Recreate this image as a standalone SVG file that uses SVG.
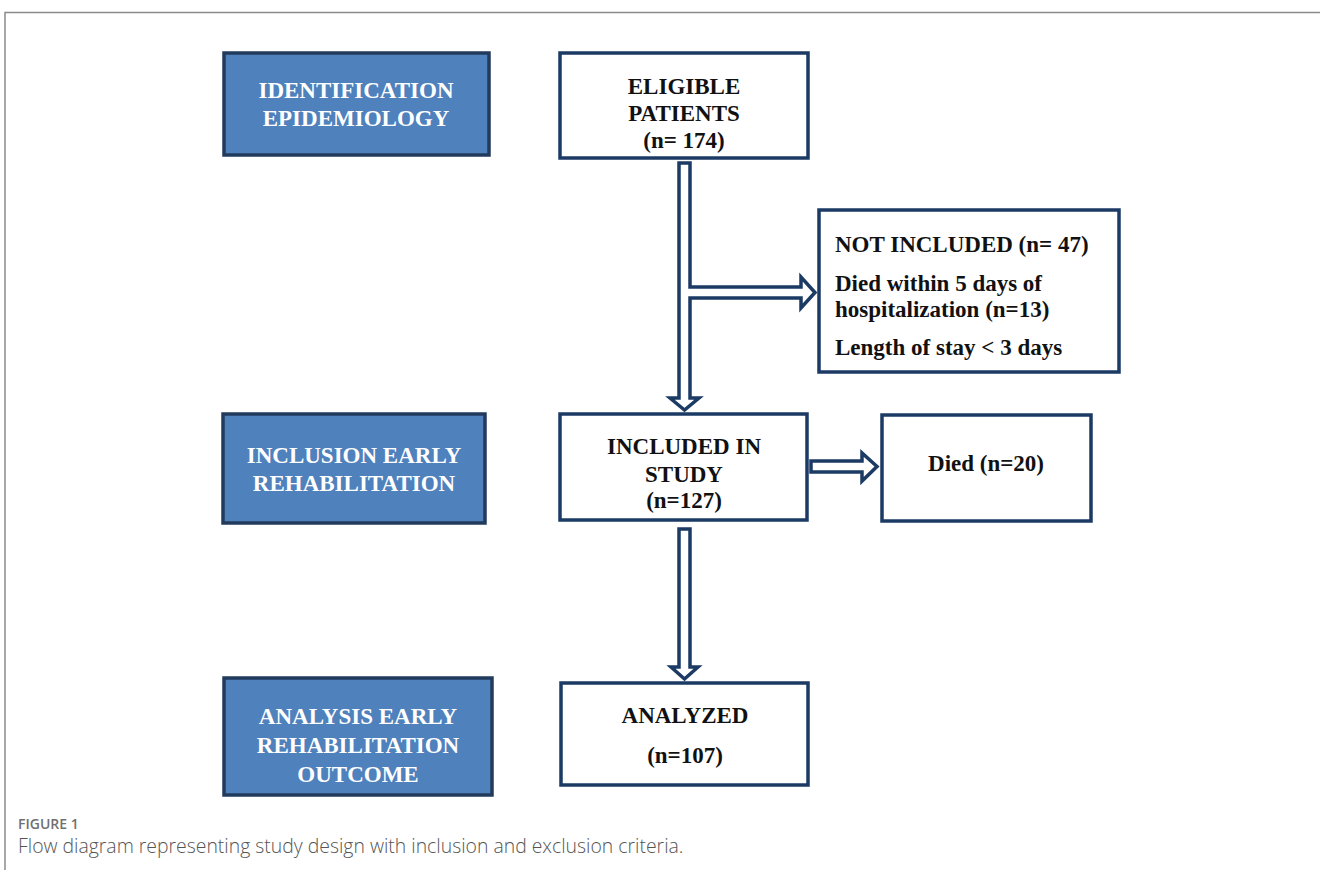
<svg xmlns="http://www.w3.org/2000/svg" width="1320" height="875" viewBox="0 0 1320 875">
<style>
.frame{fill:none;stroke:#8a8a8a;stroke-width:1.5}
.lbox{fill:#4F81BD;stroke:#223B5C;stroke-width:3.5}
.rbox{fill:#ffffff;stroke:#1B3A64;stroke-width:3.5}
.arr{fill:#ffffff;stroke:#1B3A64;stroke-width:3.5;stroke-linejoin:miter}
.lt{font-family:"Liberation Serif","Times New Roman",serif;font-weight:bold;font-size:23px;fill:#ffffff;text-anchor:middle}
.rt{font-family:"Liberation Serif","Times New Roman",serif;font-weight:bold;font-size:23px;fill:#111111;text-anchor:middle}
.rtl{font-family:"Liberation Serif","Times New Roman",serif;font-weight:bold;font-size:23px;fill:#111111}
.fig{font-family:"Open Sans","Liberation Sans",sans-serif;font-size:14px;fill:#707070;font-weight:600}
.cap{font-family:"Open Sans","Liberation Sans",sans-serif;font-size:19.4px;fill:#555555;font-weight:300}
</style>
<rect width="1320" height="875" fill="#ffffff"/>
<path class="frame" d="M5,870 V12.5 H1320"/>

<g id="connectors">
<path class="arr" d="M679,163 V398 H670 L684.5,410 L699,398 H690 V298 H801 V308 L815,292.5 L801,277 V287 H690 V163 Z"/>
<path class="arr" d="M679,529 H690 V667 H698 L684.5,679 L671,667 H679 Z"/>
<path class="arr" d="M811,461 H862 V453 L877,466.5 L862,481 V472 H811 Z"/>
</g>

<g id="stage-identification">
<rect class="lbox" x="224" y="53" width="265" height="102"/>
<text class="lt" x="356" y="98">IDENTIFICATION</text>
<text class="lt" x="356" y="126">EPIDEMIOLOGY</text>
</g>

<g id="stage-inclusion">
<rect class="lbox" x="223" y="414" width="262" height="109"/>
<text class="lt" x="354" y="463">INCLUSION EARLY</text>
<text class="lt" x="354" y="491">REHABILITATION</text>
</g>

<g id="stage-analysis">
<rect class="lbox" x="224" y="678" width="268" height="117"/>
<text class="lt" x="358" y="724">ANALYSIS EARLY</text>
<text class="lt" x="358" y="753">REHABILITATION</text>
<text class="lt" x="358" y="782">OUTCOME</text>
</g>

<g id="eligible">
<rect class="rbox" x="560" y="53" width="248" height="105"/>
<text class="rt" x="684" y="94">ELIGIBLE</text>
<text class="rt" x="684" y="121">PATIENTS</text>
<text class="rt" x="684" y="148">(n= 174)</text>
</g>

<g id="not-included">
<rect class="rbox" x="819" y="210" width="300" height="162"/>
<text class="rtl" x="835" y="252">NOT INCLUDED (n= 47)</text>
<text class="rtl" x="835" y="291">Died within 5 days of</text>
<text class="rtl" x="835" y="317">hospitalization (n=13)</text>
<text class="rtl" x="835" y="355">Length of stay &lt; 3 days</text>
</g>

<g id="included">
<rect class="rbox" x="560" y="414" width="247" height="106"/>
<text class="rt" x="684" y="454">INCLUDED IN</text>
<text class="rt" x="684" y="482">STUDY</text>
<text class="rt" x="684" y="508">(n=127)</text>
</g>

<g id="died">
<rect class="rbox" x="882" y="415" width="209" height="106"/>
<text class="rt" x="986" y="471">Died (n=20)</text>
</g>

<g id="analyzed">
<rect class="rbox" x="561" y="683" width="247" height="102"/>
<text class="rt" x="685" y="723">ANALYZED</text>
<text class="rt" x="685" y="763">(n=107)</text>
</g>

<g id="caption">
<text class="fig" x="18" y="829">FIGURE 1</text>
<text class="cap" x="18" y="853">Flow diagram representing study design with inclusion and exclusion criteria.</text>
</g>
</svg>
